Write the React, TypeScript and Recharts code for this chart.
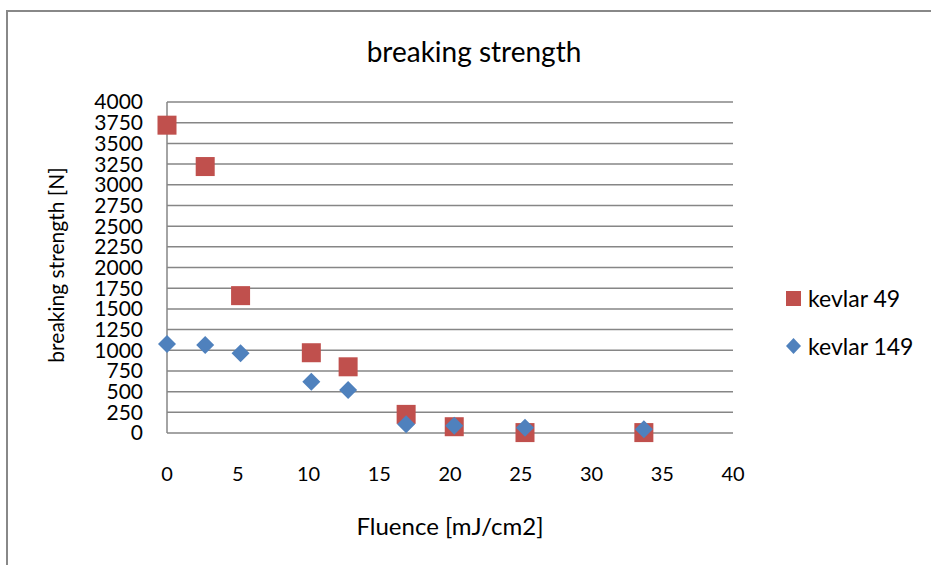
import {
  ScatterChart,
  Scatter,
  XAxis,
  YAxis,
  CartesianGrid,
  Legend,
  Label,
} from "recharts";

const FONT = "Lato, 'Open Sans', sans-serif";

const fluence = [0, 2.7, 5.2, 10.2, 12.8, 16.9, 20.3, 25.3, 33.7];
const kevlar49 = [3720, 3220, 1660, 970, 800, 225, 76, 5, 5];
const kevlar149 = [1075, 1063, 963, 620, 520, 105, 88, 64, 45];

const xTicks = [0, 5, 10, 15, 20, 25, 30, 35, 40];
const yTicks = [
  0, 250, 500, 750, 1000, 1250, 1500, 1750, 2000, 2250, 2500, 2750, 3000,
  3250, 3500, 3750, 4000,
];

const RED = "#c0504d";
const BLUE = "#4f81bd";
const GRID = "#868686";

const data49 = fluence.map((x, i) => ({ x, y: kevlar49[i] }));
const data149 = fluence.map((x, i) => ({ x, y: kevlar149[i] }));

function SquareDot(props: any) {
  const { cx, cy } = props;
  return <rect x={cx - 9.5} y={cy - 9.5} width={19} height={19} fill={RED} />;
}

function DiamondDot(props: any) {
  const { cx, cy } = props;
  const r = 9;
  return (
    <polygon
      points={`${cx},${cy - r} ${cx + r},${cy} ${cx},${cy + r} ${cx - r},${cy}`}
      fill={BLUE}
    />
  );
}

function LegendBox() {
  return (
    <div style={{ fontFamily: FONT, fontSize: 23, color: "#000" }}>
      <div style={{ display: "flex", alignItems: "center", height: 28 }}>
        <svg width={22} height={20}>
          <rect x={2} y={3} width={15} height={15} fill={RED} />
        </svg>
        <span style={{ marginLeft: 2 }}>kevlar 49</span>
      </div>
      <div
        style={{ display: "flex", alignItems: "center", height: 28, marginTop: 20 }}
      >
        <svg width={22} height={20}>
          <polygon points="9.5,2 17,10 9.5,18 2,10" fill={BLUE} />
        </svg>
        <span style={{ marginLeft: 2 }}>kevlar 149</span>
      </div>
    </div>
  );
}

export default function App() {
  return (
    <div
      style={{
        position: "absolute",
        left: 0,
        top: 0,
        width: 931,
        height: 565,
        overflow: "hidden",
        background: "#fff",
      }}
    >
      <div
        style={{
          position: "absolute",
          left: 6,
          top: 10,
          width: 1000,
          height: 1000,
          border: "2px solid #888",
        }}
      />
      <div
        style={{
          position: "absolute",
          left: 0,
          width: 948,
          top: 34,
          textAlign: "center",
          fontFamily: FONT,
          fontSize: 28,
          color: "#000",
        }}
      >
        breaking strength
      </div>
      <ScatterChart
        width={931}
        height={565}
        margin={{ top: 102, right: 58, bottom: 0, left: 0 }}
        style={{ position: "absolute", left: 0, top: 0 }}
      >
        <CartesianGrid vertical={false} stroke={GRID} strokeWidth={1.5} />
        <XAxis
          type="number"
          dataKey="x"
          domain={[0, 40]}
          ticks={xTicks}
          height={132}
          tickLine={false}
          axisLine={false}
          tickMargin={28}
          tick={{ fill: "#000", fontSize: 20, fontFamily: FONT }}
        >
          <Label
            content={() => (
              <text
                x={450}
                y={535}
                textAnchor="middle"
                fontFamily={FONT}
                fontSize={24}
                fill="#000"
              >
                Fluence [mJ/cm2]
              </text>
            )}
          />
        </XAxis>
        <YAxis
          type="number"
          dataKey="y"
          domain={[0, 4000]}
          ticks={yTicks}
          interval={0}
          width={167}
          tickLine={false}
          axisLine={{ stroke: GRID, strokeWidth: 1.5 }}
          tickMargin={18}
          tick={{ fill: "#000", fontSize: 21, fontFamily: FONT }}
        >
          <Label
            content={() => (
              <text
                x={64}
                y={265}
                transform="rotate(-90 64 265)"
                textAnchor="middle"
                fontFamily={FONT}
                fontSize={21}
                fill="#000"
              >
                breaking strength [N]
              </text>
            )}
          />
        </YAxis>
        <Legend
          layout="vertical"
          align="right"
          verticalAlign="top"
          content={() => <LegendBox />}
          wrapperStyle={{ left: 784, top: 284, width: 140 }}
        />
        <Scatter
          name="kevlar 49"
          data={data49}
          fill={RED}
          shape={SquareDot}
          isAnimationActive={false}
        />
        <Scatter
          name="kevlar 149"
          data={data149}
          fill={BLUE}
          shape={DiamondDot}
          isAnimationActive={false}
        />
      </ScatterChart>
    </div>
  );
}
